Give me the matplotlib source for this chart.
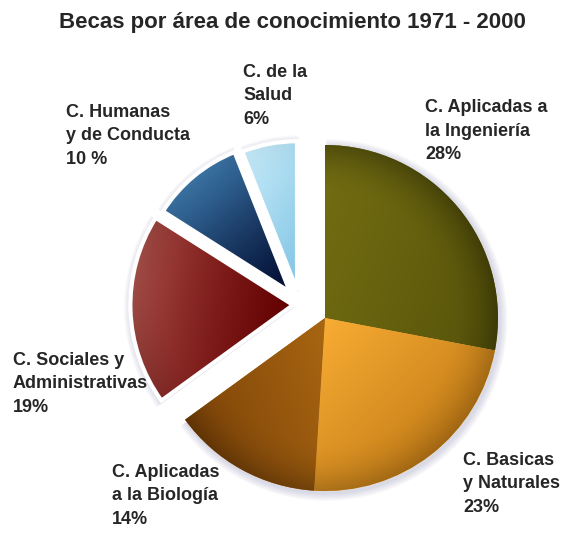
import matplotlib
matplotlib.use('Agg')
import matplotlib.pyplot as plt
import numpy as np
from matplotlib.colors import to_rgb
from matplotlib.patches import Wedge

plt.rcParams['font.family'] = ['Liberation Sans', 'DejaVu Sans']

title = "Becas por área de conocimiento 1971 - 2000"
categories = ["C. Aplicadas a\nla Ingeniería", "C. Basicas\ny Naturales", "C. Aplicadas\na la Biología",
              "C. Sociales y\nAdministrativas", "C. Humanas\ny de Conducta", "C. de la\nSalud"]
values = [28, 23, 14, 19, 10, 6]
pct_labels = ["28%", "23%", "14%", "19%", "10 %", "6%"]

# ---- styling ----
# explode offsets (dx, dy) in pixels (y up) and radius scale (perspective of pulled-out slices)
offsets = [(0, 0), (0, 0), (0, 0), (-32, 13), (-35, 26), (-28, 28)]
rscale = [1, 1, 1, 0.94, 0.87, 0.86]
light = ["#736e12", "#f8ac34", "#a86612", "#c0625a", "#4282b6", "#c8ecfa"]
dark = ["#57530a", "#c88018", "#7e4408", "#620000", "#000a2e", "#80c4e4"]
grad_dir = [-20, -45, 200, -10, -50, -30]  # direction light->dark (deg)
gamma = [1.0, 1.0, 1.0, 0.55, 0.75, 1.0]
rim_dark = [0.3, 0.2, 0.25, 0.15, 0.1, 0.04]
label_xy = [(425, 99), (463, 452), (112, 464), (13, 352), (66, 104), (243, 64)]  # pixel, top-left

W, H = 561, 536
fig = plt.figure(figsize=(W / 100, H / 100), dpi=100)
ax = fig.add_axes([0, 0, 1, 1])

R = 173
CX, CY = 325, H - 318
wedges, _ = ax.pie(values, startangle=90, counterclock=False,
                   radius=R, center=(CX, CY), frame=True,
                   colors=light, wedgeprops=dict(linewidth=0))
ax.set_xlim(0, W)
ax.set_ylim(0, H)
ax.set_aspect('equal')
ax.axis('off')

for w, (dx, dy), s in zip(wedges, offsets, rscale):
    cx, cy = w.center
    w.set_center((cx + dx, cy + dy))
    w.set_radius(w.r * s)
    w.set_zorder(2)

# soft shadow / glow behind the slices
for w in wedges:
    cx, cy = w.center
    for k in range(1, 7):
        sh = Wedge((cx + 1.5, cy - 2), w.r + k * 1.3, w.theta1, w.theta2,
                   facecolor='#8c8cb4', edgecolor='none', alpha=0.06, zorder=1)
        ax.add_patch(sh)

# gradient fill clipped to each wedge
for w, c1, c2, ang, g, rim in zip(wedges, light, dark, grad_dir, gamma, rim_dark):
    cx, cy = w.center
    r = w.r
    n = 300
    xs = np.linspace(-1, 1, n)
    X, Y = np.meshgrid(xs, xs)
    rho = np.sqrt(X ** 2 + Y ** 2)
    a = np.degrees(np.arctan2(Y, X)) % 360
    inside = (((a - w.theta1) % 360) <= (w.theta2 - w.theta1)) & (rho <= 1)
    d = np.array([np.cos(np.radians(ang)), np.sin(np.radians(ang))])
    p = X * d[0] + Y * d[1]
    pmin, pmax = p[inside].min(), p[inside].max()
    t = np.clip((p - pmin) / (pmax - pmin), 0, 1) ** g
    t = t[..., None]
    img = (1 - t) * np.array(to_rgb(c1)) + t * np.array(to_rgb(c2))
    f = np.clip((rho - 0.7) / 0.3, 0, 1) ** 2
    img = img * (1 - rim * f)[..., None]
    im = ax.imshow(img, extent=[cx - r, cx + r, cy - r, cy + r], origin='lower',
                   interpolation='bilinear', zorder=3)
    im.set_clip_path(w)

# white separating borders on exploded slices
for w, (dx, dy) in zip(wedges, offsets):
    if dx or dy:
        b = Wedge(w.center, w.r, w.theta1, w.theta2, facecolor='none',
                  edgecolor='white', linewidth=3, zorder=4)
        ax.add_patch(b)

ax.set_xlim(0, W)
ax.set_ylim(0, H)

txt_color = "#262626"
fig.text(292 / W, 1 - 12 / H, title, ha='center', va='top', fontsize=16,
         fontweight='bold', color=txt_color)
for (x, y), cat, p in zip(label_xy, categories, pct_labels):
    fig.text(x / W, 1 - y / H, cat + "\n" + p, ha='left', va='top', fontsize=13,
             fontweight='bold', color=txt_color, linespacing=1.5)

fig.savefig("out.png", dpi=100)
